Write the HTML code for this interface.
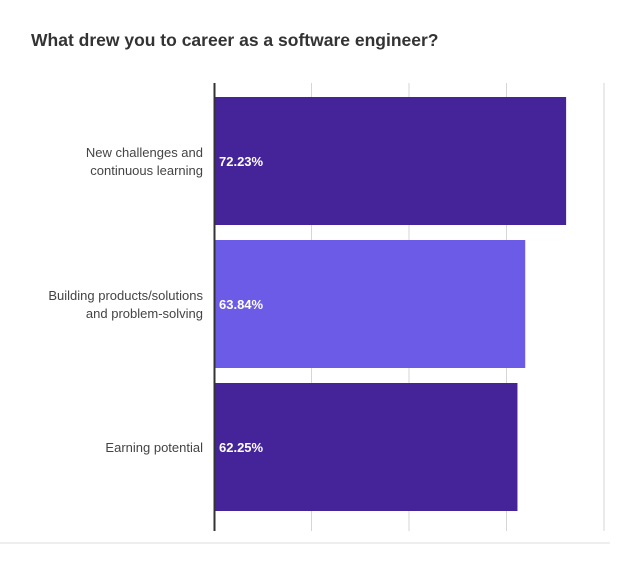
<!DOCTYPE html>
<html><head><meta charset="utf-8"><style>
body{margin:0;background:#fff;width:640px;height:559px;overflow:hidden;font-family:"Liberation Sans",sans-serif}
</style></head><body>
<svg width="640" height="559">
<text x="31" y="46" font-size="17.5" font-weight="bold" fill="#333">What drew you to career as a software engineer?</text>
<g id="grid"></g><g id="bars"></g>
<line x1="214.5" y1="83" x2="214.5" y2="531" stroke="#333" stroke-width="2"/>
<line x1="0" y1="543" x2="610" y2="543" stroke="#ddd" stroke-width="1"/>
</svg>
<script>
const categories=[["New challenges and","continuous learning"],["Building products/solutions","and problem-solving"],["Earning potential"]];
const values=[72.23,63.84,62.25];
const colors=["#45249a","#6b5be6","#45249a"];
const ticks=[20,40,60,80];
const NS="http://www.w3.org/2000/svg";
const x=v=>214+v*4.875;
const y=i=>97+i*143;
const bh=128;
function mk(t,a,p){const e=document.createElementNS(NS,t);for(const k in a)e.setAttribute(k,a[k]);p.appendChild(e);return e;}
const g=document.getElementById('grid'),b=document.getElementById('bars');
ticks.forEach(t=>{const l=mk('line',{x1:x(t),x2:x(t),y1:83,y2:531,stroke:'#d6d6d6','stroke-width':1},g);

});
values.forEach((v,i)=>{
const r=mk('rect',{x:214,y:y(i),width:x(v)-214,height:bh,fill:colors[i]},b);


const t=mk('text',{x:219,y:y(i)+bh/2+5,'font-size':13,'font-weight':'bold',fill:'#fff'},b);t.textContent=v.toFixed(2)+'%';


const lines=categories[i];
lines.forEach((s,j)=>{const c=mk('text',{x:203,y:y(i)+bh/2+5+(j-(lines.length-1)/2)*18,'font-size':13,fill:'#444','text-anchor':'end'},b);c.textContent=s;

});
});
</script>
</body></html>
